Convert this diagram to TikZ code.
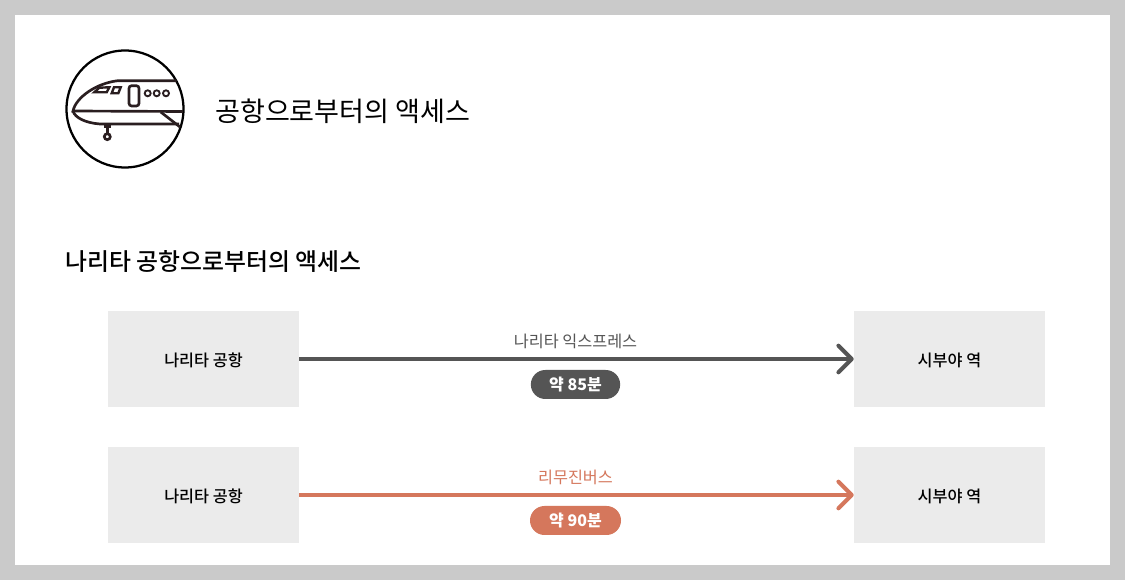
\documentclass[tikz,border=0pt]{standalone}
\usepackage{fontspec}
\usepackage{xcolor}
\setmainfont{Noto Sans CJK KR}
\newfontfamily\medfont{Noto Sans CJK KR Medium}
\usetikzlibrary{arrows.meta,positioning,shapes.misc}
\definecolor{framegrey}{HTML}{CACACA}
\definecolor{boxgrey}{HTML}{EBEBEB}
\definecolor{traingrey}{HTML}{555555}
\definecolor{busorange}{HTML}{D5775C}
\definecolor{iconline}{HTML}{2A1E20}
\tikzset{
    placebox/.style={fill=boxgrey, minimum width=143.25pt, minimum height=72pt, inner sep=0pt, text height=13pt, text depth=1pt, font=\medfont\fontsize{12.2pt}{14pt}\selectfont},
    routearrow/.style={line width=3pt, -{Straight Barb[length=10pt,width=20pt,round]}},
    routelabel/.style={font=\fontsize{12.2pt}{14pt}\selectfont, inner sep=0pt},
    timepill/.style={rounded rectangle, minimum width=67pt, minimum height=21.75pt, inner sep=0pt, text=white, font=\bfseries\fontsize{12pt}{14pt}\selectfont},
    iconstroke/.style={draw=iconline, line width=2pt}
}
\begin{document}
\begin{tikzpicture}[x=0.75pt,y=-0.75pt]
    % page frame
    \fill[framegrey] (0,0) rectangle (1125,580);
    \fill[white] (15,15) rectangle (1110,565);

    % plane icon
    \draw[black, line width=1.7pt] (125,109) circle (58.5);
    \draw[iconstroke] (176.7,80.7) -- (118,80.7) .. controls (97,83) and (76,97) .. (73,111) -- (183,111.5);
    \draw[iconstroke] (73,111) .. controls (75,118) and (86,123) .. (100,124) -- (179,124);
    \draw[iconstroke] (160.7,112) -- (180,127);
    \draw[iconstroke, line width=1.8pt] (94.3,92.3) -- (99.3,87.7) -- (109.3,87.3) -- (106.7,92.3) -- cycle;
    \draw[iconstroke, line width=1.8pt] (111.7,93.3) -- (114,87.3) -- (120.7,87.3) -- (118.3,93.3) -- cycle;
    \draw[iconstroke, rounded corners=2pt] (129,85.7) rectangle (139,106);
    \foreach \wx in {147.7,156.7,166}
        \draw[iconstroke, line width=1.4pt] (\wx,93.3) circle (3);
    \draw[iconstroke] (104,126.7) -- (110.5,126.7) (107.3,126.7) -- (107.3,133.5);
    \draw[iconstroke] (107.3,136.7) circle (3);

    % headings
    \node[anchor=west, inner sep=0pt, font=\fontsize{20.3pt}{24pt}\selectfont] (pagetitle) at (215,111) {공항으로부터의 액세스};
    \node[anchor=west, inner sep=0pt, font=\medfont\fontsize{17.9pt}{22pt}\selectfont] (sectiontitle) at (65,262) {나리타 공항으로부터의 액세스};

    % place boxes
    \node[placebox] (naritaA) at (203.5,359) {나리타 공항};
    \node[placebox] (shibuyaA) at (949.5,359) {시부야 역};
    \node[placebox] (naritaB) at (203.5,495) {나리타 공항};
    \node[placebox] (shibuyaB) at (949.5,495) {시부야 역};

    % routes
    \draw[routearrow, traingrey] (naritaA) -- (shibuyaA)
        node[midway, above=6.3pt, xshift=-0.75pt, routelabel, text=traingrey] (expressname) {나리타 익스프레스}
        node[midway, below=6.75pt, xshift=-0.75pt, timepill, fill=traingrey] (expresstime) {약 85분};
    \draw[routearrow, busorange] (naritaB) -- (shibuyaB)
        node[midway, above=6.3pt, xshift=-0.75pt, routelabel, text=busorange] (busname) {리무진버스}
        node[midway, below=6.75pt, xshift=-0.75pt, timepill, fill=busorange, minimum width=68.25pt] (bustime) {약 90분};
\end{tikzpicture}
\end{document}
